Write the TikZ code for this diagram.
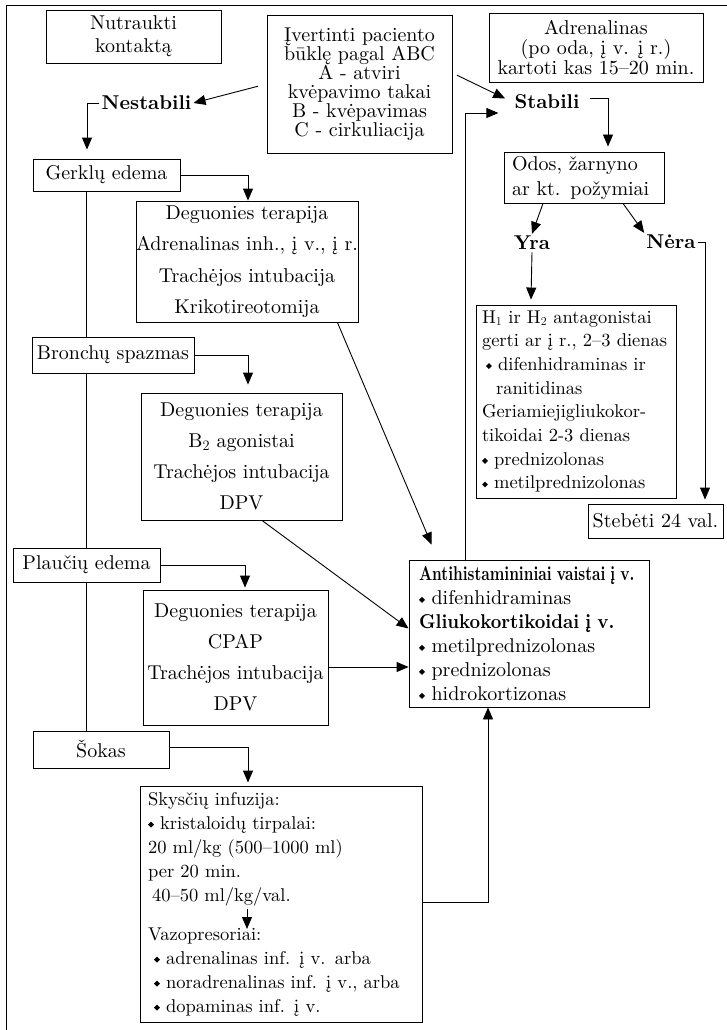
\documentclass[tikz,border=0pt]{standalone}
\usepackage{fontspec}
\setmainfont{lmroman10-regular}[Extension=.otf, BoldFont=lmroman10-bold, ItalicFont=lmroman10-italic]
\usepackage{amssymb}
\usepackage{graphicx}
\usetikzlibrary{arrows.meta}

\newcommand{\bul}{\raisebox{1.5pt}{\rotatebox{45}{\rule{4.2pt}{4.2pt}}}\ }

\tikzset{
  box/.style={draw, line width=0.9pt, inner sep=0pt, align=center, font=\fontsize{20}{20}\selectfont},
  lbox/.style={box, align=left, inner xsep=8pt},
  tag/.style={inner sep=2pt, font=\fontsize{20}{24}\selectfont\bfseries},
  arr/.style={line width=0.9pt, -{Triangle[length=12pt,width=10pt]}},
  ln/.style={line width=0.9pt}
}

\begin{document}
\begin{tikzpicture}[x=1pt, y=-1pt]
  \useasboundingbox (0,0) rectangle (727,1030);

  % frame
  \draw[ln] (6,1030) -- (6,5) -- (727,5);

  % top row
  \node[box, minimum width=175pt, minimum height=53pt, font=\fontsize{20}{23}\selectfont] (nutr) at (133.5,36.5) {Nutraukti\\kontaktą};
  \node[box, minimum width=185pt, minimum height=138pt, font=\fontsize{20}{19}\selectfont] (abc) at (359.5,84) {Įvertinti paciento\\būklę pagal ABC\\A - atviri\\kvėpavimo takai\\B - kvėpavimas\\C - cirkuliacija};
  \node[box, minimum width=214pt, minimum height=69pt] (adr) at (596,47.5) {Adrenalinas\\(po oda, į v. į r.)\\kartoti kas 15–20 min.};

  \node[tag] (nest) at (146.5,103) {Nestabili};
  \node[tag] (stab) at (547,102) {Stabili};

  % left column
  \node[box, minimum width=147pt, minimum height=32pt] (gerk) at (106.5,175) {Gerklų edema};
  \node[box, minimum width=214pt, minimum height=121pt, font=\fontsize{20}{31.5}\selectfont] (d1) at (247,261.5) {Deguonies terapija\\Adrenalinas inh., į v., į r.\\Trachėjos intubacija\\Krikotireotomija};
  \node[box, minimum width=162pt, minimum height=36pt] (bron) at (113,355) {Bronchų spazmas};
  \node[box, minimum width=201pt, minimum height=127pt, font=\fontsize{20}{31}\selectfont] (d2) at (241.5,456.5) {Deguonies terapija\\B$_2$ agonistai\\Trachėjos intubacija\\DPV};
  \node[box, minimum width=147pt, minimum height=34pt] (plau) at (86.5,565) {Plaučių edema};
  \node[box, minimum width=185pt, minimum height=135pt, font=\fontsize{20}{31}\selectfont] (d3) at (235.5,657.5) {Deguonies terapija\\CPAP\\Trachėjos intubacija\\DPV};
  \node[box, minimum width=136pt, minimum height=37pt] (sok) at (101,749.5) {Šokas};
  \node[lbox, text width=266pt, minimum height=236pt, font=\fontsize{18.5}{24}\selectfont] (sky) at (281,904) {Skysčių infuzija:\\\bul kristaloidų tirpalai:\\20 ml/kg (500–1000 ml)\\per 20 min.\\\hspace*{4pt}40–50 ml/kg/val.\\[15pt]Vazopresoriai:\\\hspace*{6pt}\bul adrenalinas inf. į v. arba\\\hspace*{6pt}\bul noradrenalinas inf. į v., arba\\\hspace*{6pt}\bul dopaminas inf. į v.};
  \coordinate (vtop) at (247,909);
  \coordinate (vbot) at (247,929);

  % right column
  \node[lbox, text width=144pt, minimum height=51pt, font=\fontsize{20}{25}\selectfont] (odos) at (584,177.5) {Odos, žarnyno\\ar kt. požymiai};
  \node[tag] (yra) at (532,243) {Yra};
  \node[tag] (nera) at (671,242) {Nėra};
  \node[lbox, inner xsep=6pt, text width=188pt, minimum height=193pt, font=\fontsize{18.5}{23.7}\selectfont] (h1) at (576,401.5) {H$_1$ ir H$_2$ antagonistai\\gerti ar į r., 2–3 dienas\\\hspace*{4pt}\bul difenhidraminas ir\\\hspace*{14pt}ranitidinas\\Geriamiejigliukokor-\\tikoidai 2-3 dienas\\\bul prednizolonas\\\bul metilprednizolonas};
  \node[box, minimum width=135pt, minimum height=34pt] (steb) at (655.5,521) {Stebėti 24 val.};
  \node[lbox, inner xsep=10pt, text width=220pt, minimum height=147pt, font=\fontsize{20}{24}\selectfont] (anti) at (529,633.5) {\scalebox{0.76}[1]{\bfseries Antihistamininiai vaistai į v.}\\\bul difenhidraminas\\\scalebox{0.92}[1]{\bfseries Gliukokortikoidai į v.}\\\bul metilprednizolonas\\\bul prednizolonas\\\bul hidrokortizonas};

  % connectors
  \draw[arr, shorten <=9pt] (abc.west) -- (nest.east);
  \draw[arr, shorten <=5pt, shorten >=8pt] ([yshift=11pt]abc.east) -- (stab.west);
  \draw[arr] (nest.west) -| ([xshift=-19.5pt,yshift=9pt]gerk.north);
  \draw[arr] (gerk.east) -| ([xshift=1pt]d1.north);
  \draw[ln] ([xshift=-20.5pt]gerk.south) -- ([xshift=-20.5pt]gerk.south |- bron.north);
  \draw[arr] ([xshift=-21pt]d1.south east) -- ([xshift=23pt,yshift=15pt]anti.north west);
  \draw[arr] (bron.east) -| ([xshift=6.5pt,yshift=8pt]d2.north);
  \draw[ln] ([xshift=-27pt]bron.south) -- ([xshift=-27pt]bron.south |- plau.north);
  \draw[arr] ([xshift=20.5pt]d2.south) -- ([yshift=5pt]anti.west);
  \draw[arr] (plau.east) -| ([xshift=9.5pt,yshift=2pt]d3.north);
  \draw[ln] ([xshift=-0.5pt]plau.south) -- ([xshift=-0.5pt]plau.south |- sok.north);
  \draw[arr] ([yshift=-9.5pt]d3.east) -- ([yshift=-9.5pt]d3.east -| anti.west);
  \draw[arr] ([yshift=2.5pt]sok.east) -| ([xshift=-33pt,yshift=3pt]sky.north);
  \draw[arr] (vtop) -- (vbot);
  \draw[arr] ([yshift=2pt]sky.east) -| ([xshift=-41pt]anti.south);
  \draw[arr, shorten >=14pt] ([xshift=-64pt]anti.north) |- ([yshift=-11pt]stab.west);
  \draw[arr, shorten <=8pt] ([yshift=4pt]stab.east) -| ([xshift=24pt,yshift=5pt]odos.north);
  \draw[arr] ([xshift=-41pt]odos.south) -- (yra.north);
  \draw[arr] ([xshift=39pt]odos.south) -- (nera.north west);
  \draw[arr] (yra.south) -- ([xshift=-45pt,yshift=5pt]h1.north);
  \draw[arr] (nera.east) -| ([xshift=49.5pt,yshift=4pt]steb.north);

\end{tikzpicture}
\end{document}
